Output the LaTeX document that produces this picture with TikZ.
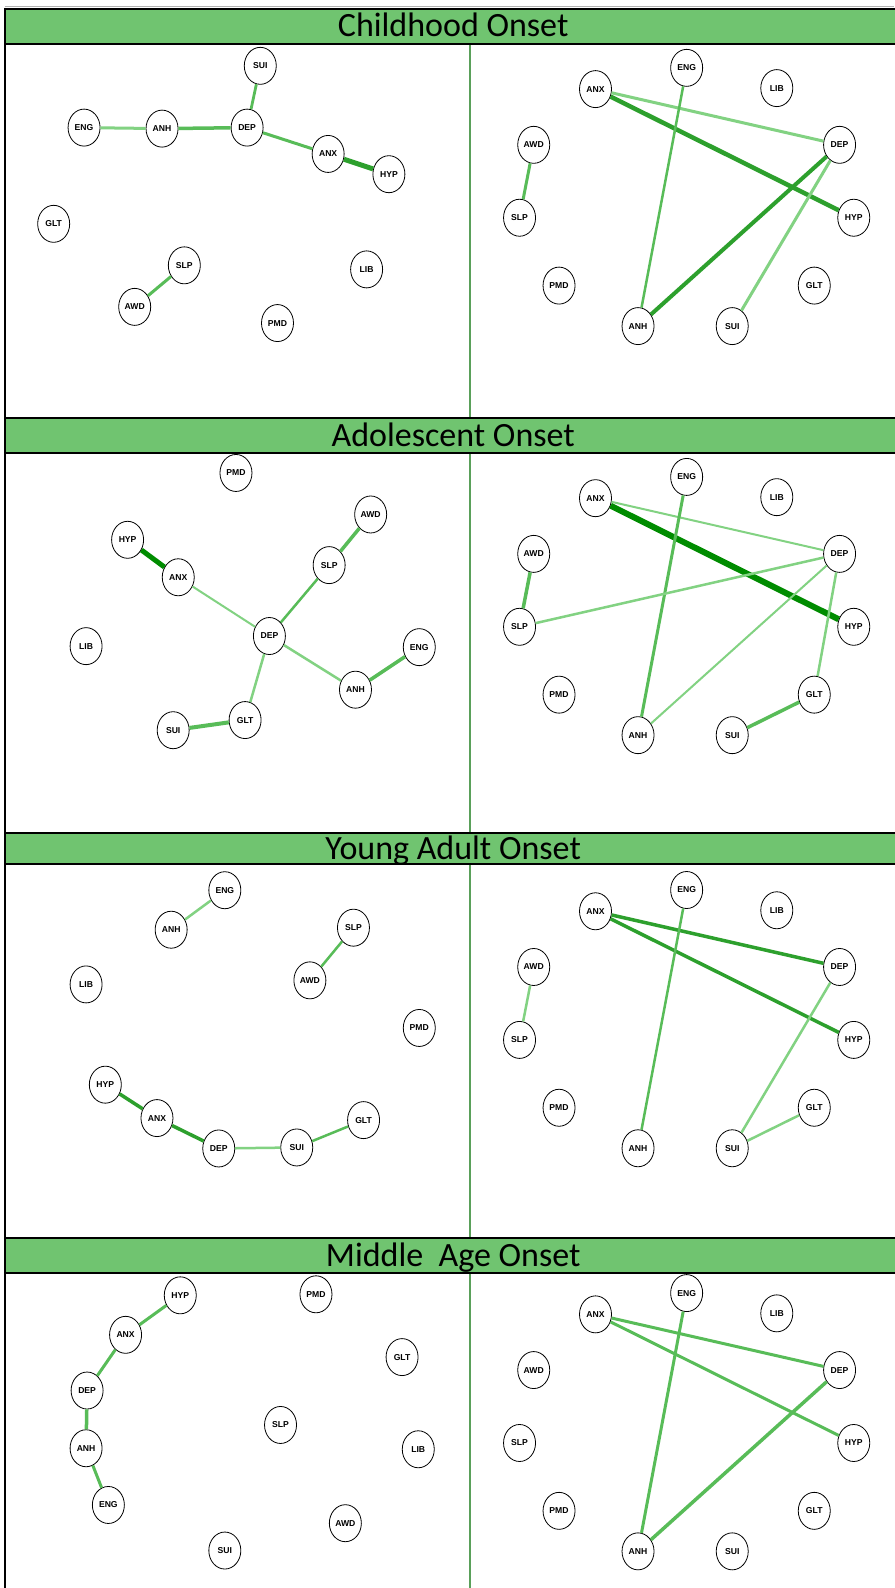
\documentclass[tikz,border=0pt]{standalone}
\usepackage{fontspec}
\setsansfont{Liberation Sans}
\newfontfamily\hdrfont{Carlito}
\usetikzlibrary{shapes.geometric}
\definecolor{hdr}{RGB}{112,196,112}
\definecolor{divg}{RGB}{90,160,90}
\definecolor{elight}{RGB}{130,210,130}
\definecolor{emed}{RGB}{88,188,88}
\definecolor{edark}{RGB}{45,160,45}
\definecolor{edarker}{RGB}{0,140,0}
\tikzset{
  nd/.style={draw=black, fill=white, ellipse, line width=0.8pt, minimum width=32pt, minimum height=37pt, inner sep=0pt, font=\sffamily\bfseries\fontsize{8.6}{8.6}\selectfont},
  hbar/.style={fill=hdr},
  hline/.style={draw=black, line width=2pt},
  htext/.style={anchor=base, font=\hdrfont\fontsize{34}{34}\selectfont},
  divline/.style={draw=divg, line width=1.5pt},
  el/.style={draw=elight, line width=#1pt},
  em/.style={draw=emed, line width=#1pt},
  ed/.style={draw=edark, line width=#1pt},
  edd/.style={draw=edarker, line width=#1pt},
}
\newcommand{\rightnodes}[1]{%
  \node[nd] (#1ANX) at (588,44.5) {ANX};
  \node[nd] (#1ENG) at (678,23.5) {ENG};
  \node[nd] (#1LIB) at (767,43.5) {LIB};
  \node[nd] (#1AWD) at (527,99.5) {AWD};
  \node[nd] (#1DEP) at (829,99.5) {DEP};
  \node[nd] (#1SLP) at (513,171.5) {SLP};
  \node[nd] (#1HYP) at (843,171.5) {HYP};
  \node[nd] (#1PMD) at (552,238.5) {PMD};
  \node[nd] (#1GLT) at (804,238.5) {GLT};
  \node[nd] (#1ANH) at (630,278.5) {ANH};
  \node[nd] (#1SUI) at (723,278.5) {SUI};
}
\begin{document}
\begin{tikzpicture}[x=1.0125pt, y=-1.0125pt]
\useasboundingbox (0,0) rectangle (883,1568);
\fill[white] (0,0) rectangle (883,1568);
% frame
\draw[gray!60, line width=0.8pt] (4.9,6.7) -- (883,6.7);
\draw[divline] (464.2,43.5) -- (464.2,412.8);
\draw[divline] (464.2,447.4) -- (464.2,822.7);
\draw[divline] (464.2,853.3) -- (464.2,1222.7);
\draw[divline] (464.2,1257.3) -- (464.2,1568);
% headers
\fill[hbar] (4.9,8.9) rectangle (890,43.5);
\draw[hline] (4.9,8.9) -- (890,8.9) (4.9,43.5) -- (890,43.5);
\node[htext] (h1) at (447.5,36.5) {Childhood Onset};
\fill[hbar] (4.9,412.8) rectangle (890,447.4);
\draw[hline] (4.9,412.8) -- (890,412.8) (4.9,447.4) -- (890,447.4);
\node[htext] (h2) at (447.5,440.5) {Adolescent Onset};
\fill[hbar] (4.9,822.7) rectangle (890,853.3);
\draw[hline] (4.9,822.7) -- (890,822.7) (4.9,853.3) -- (890,853.3);
\node[htext] (h3) at (447.5,848.5) {Young Adult Onset};
\fill[hbar] (4.9,1222.7) rectangle (890,1257.3);
\draw[hline] (4.9,1222.7) -- (890,1222.7) (4.9,1257.3) -- (890,1257.3);
\node[htext] (h4) at (447.5,1250.5) {Middle\ \ Age Onset};
\draw[black, line width=2pt] (4.9,7.9) -- (4.9,1568);

% ---------- Panel 1 left ----------
\node[nd] (aSUI) at (257,65) {SUI};
\node[nd] (aENG) at (83,126) {ENG};
\node[nd] (aANH) at (160,127) {ANH};
\node[nd] (aDEP) at (244,126) {DEP};
\node[nd] (aANX) at (324,152) {ANX};
\node[nd] (aHYP) at (384,172) {HYP};
\node[nd] (aGLT) at (53,221) {GLT};
\node[nd] (aSLP) at (182,262) {SLP};
\node[nd] (aAWD) at (133,303) {AWD};
\node[nd] (aLIB) at (362,266) {LIB};
\node[nd] (aPMD) at (274,319) {PMD};
\draw[el=3] (aENG) -- (aANH);
\draw[em=3.5] (aANH) -- (aDEP);
\draw[em=2.8] (aDEP) -- (aSUI);
\draw[em=3] (aDEP) -- (aANX);
\draw[ed=5] (aANX) -- (aHYP);
\draw[em=3] (aSLP) -- (aAWD);

% ---------- Panel 1 right ----------
\begin{scope}[shift={(0,43.5)}]
\rightnodes{b}
\end{scope}
\draw[el=3] (bANX) -- (bDEP);
\draw[ed=4.5] (bANX) -- (bHYP);
\draw[em=2.5] (bENG) -- (bANH);
\draw[ed=4] (bDEP) -- (bANH);
\draw[el=3] (bDEP) -- (bSUI);
\draw[em=3] (bAWD) -- (bSLP);

% ---------- Panel 2 left ----------
\node[nd] (cPMD) at (233,467) {PMD};
\node[nd] (cAWD) at (366,508) {AWD};
\node[nd] (cHYP) at (126,533) {HYP};
\node[nd] (cSLP) at (325,558) {SLP};
\node[nd] (cANX) at (176,570) {ANX};
\node[nd] (cLIB) at (85,638) {LIB};
\node[nd] (cDEP) at (266,628) {DEP};
\node[nd] (cENG) at (414,639) {ENG};
\node[nd] (cANH) at (351,681) {ANH};
\node[nd] (cSUI) at (171,721) {SUI};
\node[nd] (cGLT) at (242,711) {GLT};
\draw[edd=5] (cHYP) -- (cANX);
\draw[el=2] (cANX) -- (cDEP);
\draw[em=2.5] (cDEP) -- (cSLP);
\draw[em=3.5] (cSLP) -- (cAWD);
\draw[el=2.5] (cDEP) -- (cANH);
\draw[em=3.5] (cANH) -- (cENG);
\draw[el=2.5] (cDEP) -- (cGLT);
\draw[em=4] (cGLT) -- (cSUI);

% ---------- Panel 2 right ----------
\begin{scope}[shift={(0,447.4)}]
\rightnodes{d}
\end{scope}
\draw[el=2] (dANX) -- (dDEP);
\draw[edd=6] (dANX) -- (dHYP);
\draw[em=3] (dENG) -- (dANH);
\draw[el=2.5] (dDEP) -- (dSLP);
\draw[el=2] (dDEP) -- (dANH);
\draw[el=2.5] (dDEP) -- (dGLT);
\draw[em=3.5] (dAWD) -- (dSLP);
\draw[em=3.5] (dSUI) -- (dGLT);

% ---------- Panel 3 left ----------
\node[nd] (eENG) at (222,879) {ENG};
\node[nd] (eANH) at (169,918) {ANH};
\node[nd] (eSLP) at (349,916) {SLP};
\node[nd] (eAWD) at (306,968) {AWD};
\node[nd] (eLIB) at (85,972) {LIB};
\node[nd] (ePMD) at (414,1015) {PMD};
\node[nd] (eHYP) at (104,1071) {HYP};
\node[nd] (eANX) at (155,1104) {ANX};
\node[nd] (eDEP) at (216,1134) {DEP};
\node[nd] (eSUI) at (293,1133) {SUI};
\node[nd] (eGLT) at (359,1106) {GLT};
\draw[el=2.5] (eENG) -- (eANH);
\draw[em=2.5] (eSLP) -- (eAWD);
\draw[ed=3.5] (eHYP) -- (eANX);
\draw[ed=3.5] (eANX) -- (eDEP);
\draw[el=2.5] (eDEP) -- (eSUI);
\draw[em=2.5] (eSUI) -- (eGLT);

% ---------- Panel 3 right ----------
\begin{scope}[shift={(0,855.3)}]
\rightnodes{f}
\end{scope}
\draw[ed=3.5] (fANX) -- (fDEP);
\draw[ed=3.5] (fANX) -- (fHYP);
\draw[em=2.5] (fENG) -- (fANH);
\draw[el=2.5] (fDEP) -- (fSUI);
\draw[el=2.5] (fSUI) -- (fGLT);
\draw[el=2.5] (fAWD) -- (fSLP);

% ---------- Panel 4 left ----------
\node[nd] (gHYP) at (178,1279) {HYP};
\node[nd] (gPMD) at (312,1278) {PMD};
\node[nd] (gANX) at (124,1318) {ANX};
\node[nd] (gGLT) at (397,1340) {GLT};
\node[nd] (gDEP) at (86,1373) {DEP};
\node[nd] (gSLP) at (277,1407) {SLP};
\node[nd] (gANH) at (85,1430) {ANH};
\node[nd] (gLIB) at (413,1431) {LIB};
\node[nd] (gENG) at (107,1486) {ENG};
\node[nd] (gAWD) at (341,1504) {AWD};
\node[nd] (gSUI) at (222,1531) {SUI};
\draw[em=3] (gHYP) -- (gANX);
\draw[em=3] (gANX) -- (gDEP);
\draw[em=3.5] (gDEP) -- (gANH);
\draw[em=3] (gANH) -- (gENG);

% ---------- Panel 4 right ----------
\begin{scope}[shift={(0,1253.3)}]
\rightnodes{h}
\end{scope}
\draw[em=3] (hANX) -- (hDEP);
\draw[em=3] (hANX) -- (hHYP);
\draw[em=3] (hENG) -- (hANH);
\draw[em=3.5] (hDEP) -- (hANH);
\end{tikzpicture}
\end{document}
